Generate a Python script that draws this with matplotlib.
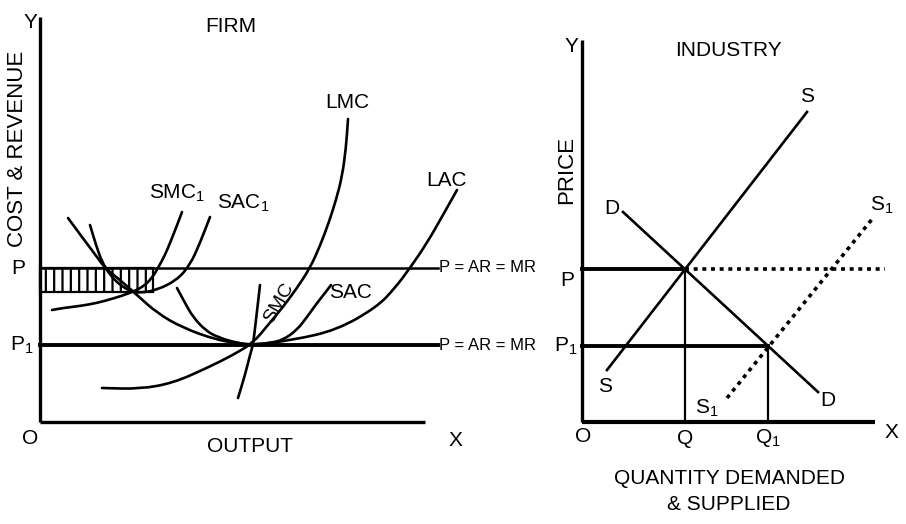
import matplotlib
matplotlib.use("Agg")
import matplotlib.pyplot as plt
from matplotlib import font_manager
from matplotlib.patches import Rectangle, PathPatch
from matplotlib.path import Path

installed = {f.name for f in font_manager.fontManager.ttflist}
FONT = 'Liberation Sans Narrow' if 'Liberation Sans Narrow' in installed else 'Liberation Sans'
plt.rcParams['font.family'] = [FONT, 'DejaVu Sans']
plt.rcParams['mathtext.fontset'] = 'custom'
plt.rcParams['mathtext.rm'] = FONT
plt.rcParams['mathtext.it'] = FONT
plt.rcParams['hatch.linewidth'] = 1.6

# ---------------- FIRM panel (origin = corner of the axes) ----------------
firm_price = 154      # P
firm_price1 = 77      # P1
firm_x_end = 385
firm_y_top = 405
price_line_end = 398
profit_x = 113        # output where P = SMC1
profit_ac = 130       # SAC1 at that output

lac_x = [28, 42, 57, 65, 80, 97, 117, 143, 177, 197, 213, 253, 297, 337, 355, 370, 387, 403, 417]
lac_y = [204, 185, 165, 154, 142, 127, 109, 94, 82, 79, 77, 82, 92, 115, 134, 154, 179, 207, 232]

sac1_x = [50, 56, 62, 70, 80, 90, 100, 117, 137, 150, 160, 170]
sac1_y = [197, 177, 160, 147, 137, 131, 129, 132, 142, 157, 179, 205]

smc1_x = [12, 23, 40, 57, 75, 90, 103, 112, 118, 125, 130, 136, 142]
smc1_y = [112, 114, 116, 119, 124, 129, 135, 144, 154, 167, 179, 194, 210]

lmc_x = [62, 100, 133, 167, 193, 213, 228, 243, 257, 270, 280, 289, 296, 302, 306, 308]
lmc_y = [34, 33, 39, 54, 67, 79, 97, 115, 134, 154, 176, 200, 222, 245, 274, 303]

sac_x = [137, 145, 153, 165, 177, 197, 213, 230, 243, 257, 267, 277, 285, 291]
sac_y = [134, 119, 105, 92, 85, 79, 77, 79, 82, 92, 105, 119, 129, 137]

smc_x = [198, 205, 210, 213, 216, 220]
smc_y = [24, 47, 67, 77, 102, 137]

# ---------------- INDUSTRY panel ----------------
ind_price = 153
ind_price1 = 76
ind_q = 103
ind_q1 = 186
ind_x_end = 293
ind_y_top = 382
dotted_end = 303

demand_x = [41, 236]
demand_y = [210, 30]
supply_x = [25, 225]
supply_y = [52, 310]
supply1_x = [145, 291]
supply1_y = [24, 204]


def smooth_curve(ax, xs, ys, lw):
    # quadratic bezier through the read points, so the hand-drawn curves stay round
    pts = list(zip(xs, ys))
    verts = [pts[0], ((pts[0][0] + pts[1][0]) / 2, (pts[0][1] + pts[1][1]) / 2)]
    codes = [Path.MOVETO, Path.LINETO]
    for i in range(1, len(pts) - 1):
        mid = ((pts[i][0] + pts[i + 1][0]) / 2, (pts[i][1] + pts[i + 1][1]) / 2)
        verts += [pts[i], mid]
        codes += [Path.CURVE3, Path.CURVE3]
    verts.append(pts[-1])
    codes.append(Path.LINETO)
    ax.add_patch(PathPatch(Path(verts, codes), fill=False, lw=lw, edgecolor='black',
                           capstyle='round', joinstyle='round'))


fig = plt.figure(figsize=(9.06, 5.24), dpi=100)
ax = fig.add_axes([0, 0, 1, 1])
ax.set_xlim(-40, 866)
ax.set_ylim(-102, 422)
ax.set_axis_off()

bx = fig.add_axes([0, 0, 1, 1])
bx.set_xlim(-582, 324)
bx.set_ylim(-102, 422)
bx.set_axis_off()
bx.patch.set_alpha(0)

k = 'black'
AX_LW = 2.4
CV_LW = 1.9

# firm axes
ax.plot([0, 0], [0, firm_y_top], color=k, lw=AX_LW, solid_capstyle='butt')
ax.plot([0, firm_x_end], [0, 0], color=k, lw=AX_LW, solid_capstyle='butt')
ax.plot([0, price_line_end], [firm_price, firm_price], color=k, lw=1.8)
ax.plot([0, price_line_end], [firm_price1, firm_price1], color=k, lw=2.8)

ax.add_patch(Rectangle((0, profit_ac), profit_x, firm_price - profit_ac,
                       fill=False, hatch='||', lw=1.6, edgecolor=k))

for xs, ys in [(lac_x, lac_y), (sac1_x, sac1_y), (smc1_x, smc1_y),
               (lmc_x, lmc_y), (sac_x, sac_y), (smc_x, smc_y)]:
    smooth_curve(ax, xs, ys, CV_LW)

fs = 15
ax.text(191, 396, 'FIRM', fontsize=fs, ha='center', va='center')
ax.text(-10, 399, 'Y', fontsize=fs, ha='center', va='center')
ax.text(-22, 273, 'COST & REVENUE', fontsize=16, ha='center', va='center', rotation=90)
ax.text(307, 319, 'LMC', fontsize=fs, ha='center', va='center')
ax.text(407, 242, 'LAC', fontsize=fs, ha='center', va='center')
ax.text(137, 229, 'SMC$_1$', fontsize=fs, ha='center', va='center')
ax.text(203, 219, 'SAC$_1$', fontsize=fs, ha='center', va='center')
ax.text(239, 119, 'SMC', fontsize=14, ha='center', va='center', rotation=60)
ax.text(310, 130, 'SAC', fontsize=fs, ha='center', va='center')
ax.text(-22, firm_price, 'P', fontsize=fs, ha='center', va='center')
ax.text(-18, firm_price1, 'P$_1$', fontsize=fs, ha='center', va='center')
ax.text(-10, -16, 'O', fontsize=fs, ha='center', va='center')
ax.text(415, -18, 'X', fontsize=fs, ha='center', va='center')
ax.text(210, -25, 'OUTPUT', fontsize=fs, ha='center', va='center')
ax.text(price_line_end + 1, firm_price, 'P = AR = MR', fontsize=12, ha='left', va='center')
ax.text(price_line_end + 1, firm_price1, 'P = AR = MR', fontsize=12, ha='left', va='center')

# industry axes
bx.plot([0, 0], [0, ind_y_top], color=k, lw=AX_LW, solid_capstyle='butt')
bx.plot([0, ind_x_end], [0, 0], color=k, lw=AX_LW + 0.6, solid_capstyle='butt')
bx.plot([0, ind_q], [ind_price, ind_price], color=k, lw=2.8)
bx.plot([0, ind_q1], [ind_price1, ind_price1], color=k, lw=2.8)
bx.plot([ind_q, ind_q], [0, ind_price], color=k, lw=1.6)
bx.plot([ind_q1, ind_q1], [0, ind_price1], color=k, lw=1.6)
bx.plot([ind_q, dotted_end], [ind_price, ind_price], color=k, lw=2.6, linestyle=(0, (1.1, 1.3)))
bx.plot(demand_x, demand_y, color=k, lw=CV_LW)
bx.plot(supply_x, supply_y, color=k, lw=CV_LW)
bx.plot(supply1_x, supply1_y, color=k, lw=2.6, linestyle=(0, (1.1, 1.3)))

bx.text(146, 372, 'INDUSTRY', fontsize=fs, ha='center', va='center')
bx.text(-11, 375, 'Y', fontsize=fs, ha='center', va='center')
bx.text(-15, 252, 'PRICE', fontsize=16, ha='center', va='center', rotation=90)
bx.text(225, 325, 'S', fontsize=fs, ha='center', va='center')
bx.text(30, 214, 'D', fontsize=fs, ha='center', va='center')
bx.text(300, 217, 'S$_1$', fontsize=fs, ha='center', va='center')
bx.text(-15, 142, 'P', fontsize=fs, ha='center', va='center')
bx.text(-16, ind_price1, 'P$_1$', fontsize=fs, ha='center', va='center')
bx.text(23, 35, 'S', fontsize=fs, ha='center', va='center')
bx.text(125, 14, 'S$_1$', fontsize=fs, ha='center', va='center')
bx.text(246, 22, 'D', fontsize=fs, ha='center', va='center')
bx.text(1, -15, 'O', fontsize=fs, ha='center', va='center')
bx.text(ind_q, -16, 'Q', fontsize=fs, ha='center', va='center')
bx.text(ind_q1, -16, 'Q$_1$', fontsize=fs, ha='center', va='center')
bx.text(309, -10, 'X', fontsize=fs, ha='center', va='center')
bx.text(147, -56, 'QUANTITY DEMANDED', fontsize=fs, ha='center', va='center')
bx.text(147, -83, '& SUPPLIED', fontsize=fs, ha='center', va='center')

fig.savefig('out.png', dpi=100)
